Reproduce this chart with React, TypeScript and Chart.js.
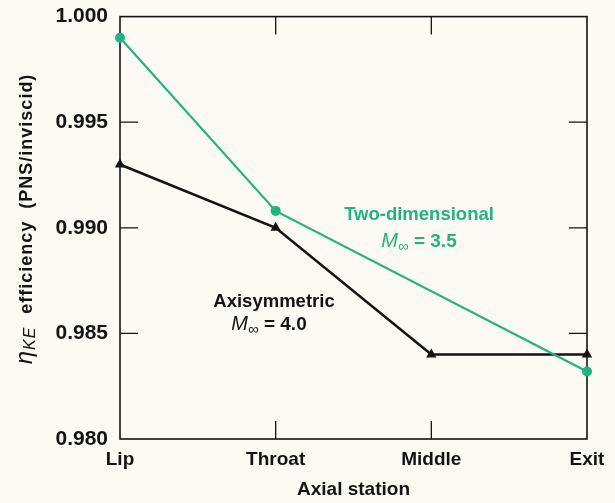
import React, { useEffect, useRef } from "react";
import { Chart, registerables } from "chart.js";

Chart.register(...registerables);

// Axial stations along the inlet
const stations = ["Lip", "Throat", "Middle", "Exit"];
// Kinetic-energy efficiency (PNS / inviscid)
const twoDimensional = [0.999, 0.9908, null, 0.9832]; // M∞ = 3.5
const axisymmetric = [0.993, 0.99, 0.984, 0.984]; // M∞ = 4.0
const yTicks = [0.98, 0.985, 0.99, 0.995, 1.0];

const TEAL = "#1db680";
const INK = "#141414";
const PAPER = "#fcfaf3";
const FONT = "'Liberation Sans', Arial, Helvetica, sans-serif";

// Box around the plot with inward tick marks on all four sides
const framePlugin = {
  id: "frame",
  beforeDatasetsDraw(chart: any) {
    const { ctx, chartArea: a, scales } = chart;
    const len = 18;
    ctx.save();
    ctx.strokeStyle = INK;
    ctx.lineWidth = 1.6;
    ctx.strokeRect(a.left, a.top, a.right - a.left, a.bottom - a.top);
    ctx.lineWidth = 1.3;
    ctx.beginPath();
    yTicks.forEach((v) => {
      const py = scales.y.getPixelForValue(v);
      if (py > a.top + 1 && py < a.bottom - 1) {
        ctx.moveTo(a.left, py);
        ctx.lineTo(a.left + len, py);
        ctx.moveTo(a.right, py);
        ctx.lineTo(a.right - len, py);
      }
    });
    stations.forEach((_, i) => {
      const px = scales.x.getPixelForValue(i);
      if (px > a.left + 1 && px < a.right - 1) {
        ctx.moveTo(px, a.bottom);
        ctx.lineTo(px, a.bottom - len);
        ctx.moveTo(px, a.top);
        ctx.lineTo(px, a.top + len);
      }
    });
    ctx.stroke();
    ctx.restore();
  },
};

// "M∞ = value" with an italic M and subscript infinity
function drawMach(ctx: CanvasRenderingContext2D, cx: number, cy: number, value: string, color: string) {
  const mFont = `italic 400 20px ${FONT}`;
  const subFont = `400 15px ${FONT}`;
  const valFont = `700 19px ${FONT}`;
  const tail = " = " + value;
  ctx.font = mFont;
  const wM = ctx.measureText("M").width;
  ctx.font = subFont;
  const wS = ctx.measureText("\u221E").width;
  ctx.font = valFont;
  const wT = ctx.measureText(tail).width;
  let x = cx - (wM + wS + wT) / 2;
  const base = cy + 7;
  ctx.fillStyle = color;
  ctx.textAlign = "left";
  ctx.textBaseline = "alphabetic";
  ctx.font = mFont;
  ctx.fillText("M", x, base);
  x += wM;
  ctx.font = subFont;
  ctx.fillText("\u221E", x, base + 4);
  x += wS;
  ctx.font = valFont;
  ctx.fillText(tail, x, base);
}

const labelsPlugin = {
  id: "curveLabels",
  afterDatasetsDraw(chart: any) {
    const { ctx } = chart;
    ctx.save();
    ctx.textAlign = "center";
    ctx.textBaseline = "middle";
    ctx.font = `700 18.5px ${FONT}`;
    ctx.fillStyle = TEAL;
    ctx.fillText("Two-dimensional", 419, 215);
    drawMach(ctx, 419, 240, "3.5", TEAL);
    ctx.textAlign = "center";
    ctx.textBaseline = "middle";
    ctx.font = `700 18.5px ${FONT}`;
    ctx.fillStyle = INK;
    ctx.fillText("Axisymmetric", 274, 302);
    drawMach(ctx, 269, 323, "4.0", INK);
    ctx.restore();
  },
};

// Vertical axis title: italic η with subscript KE, then bold text
const yTitlePlugin = {
  id: "yTitle",
  afterDraw(chart: any) {
    const { ctx } = chart;
    const etaFont = `italic 400 24px ${FONT}`;
    const subFont = `italic 400 16px ${FONT}`;
    const restFont = `700 18px ${FONT}`;
    const rest = "  efficiency  (PNS/inviscid)";
    ctx.save();
    ctx.letterSpacing = "1px";
    ctx.font = etaFont;
    const wEta = ctx.measureText("\u03B7").width;
    ctx.font = subFont;
    const wSub = ctx.measureText("KE").width + 1;
    ctx.font = restFont;
    const wRest = ctx.measureText(rest).width;
    ctx.translate(32, 219);
    ctx.rotate(-Math.PI / 2);
    ctx.fillStyle = INK;
    ctx.textAlign = "left";
    ctx.textBaseline = "alphabetic";
    let x = -(wEta + wSub + wRest) / 2;
    ctx.font = etaFont;
    ctx.fillText("\u03B7", x, 0);
    x += wEta;
    ctx.font = subFont;
    ctx.fillText("KE", x, 3);
    x += wSub;
    ctx.font = restFont;
    ctx.fillText(rest, x, 0);
    ctx.restore();
  },
};

export default function App() {
  const canvasRef = useRef<HTMLCanvasElement | null>(null);

  useEffect(() => {
    document.body.style.margin = "0";
    document.body.style.background = PAPER;
    const canvas = canvasRef.current;
    if (!canvas) return;
    const chart = new Chart(canvas, {
      type: "line",
      data: {
        labels: stations,
        datasets: [
          {
            label: "Two-dimensional, M∞ = 3.5",
            data: twoDimensional,
            borderColor: TEAL,
            backgroundColor: TEAL,
            borderWidth: 2.2,
            pointStyle: "circle",
            pointRadius: 5,
            pointBorderWidth: 0,
            spanGaps: true,
            tension: 0,
            clip: false,
          },
          {
            label: "Axisymmetric, M∞ = 4.0",
            data: axisymmetric,
            borderColor: INK,
            backgroundColor: INK,
            borderWidth: 2.6,
            pointStyle: "triangle",
            pointRadius: 6,
            pointBorderWidth: 0,
            tension: 0,
            clip: false,
          },
        ],
      },
      options: {
        responsive: false,
        animation: false,
        devicePixelRatio: 1,
        layout: { autoPadding: false, padding: { left: 0, right: 28, top: 16, bottom: 0 } },
        plugins: {
          legend: { display: false },
          tooltip: { enabled: false },
        },
        scales: {
          x: {
            type: "category",
            offset: false,
            grid: { display: false },
            border: { display: false },
            ticks: {
              color: INK,
              padding: 1,
              maxRotation: 0,
              autoSkip: false,
              font: { family: FONT, size: 19, weight: "bold" },
            },
            title: {
              display: true,
              text: "Axial station",
              color: INK,
              padding: { top: 0, bottom: 2 },
              font: { family: FONT, size: 19, weight: "bold" },
            },
            afterFit: (s: any) => {
              s.height = 64;
            },
          },
          y: {
            type: "linear",
            min: 0.98,
            max: 1.0,
            grid: { display: false },
            border: { display: false },
            afterBuildTicks: (s: any) => {
              s.ticks = yTicks.map((v) => ({ value: v }));
            },
            ticks: {
              color: INK,
              padding: 4,
              font: { family: FONT, size: 21, weight: "bold" },
              callback: (v: any) => Number(v).toFixed(3),
            },
            afterFit: (s: any) => {
              s.width = 120;
            },
          },
        },
      },
      plugins: [framePlugin, labelsPlugin, yTitlePlugin],
    });
    return () => chart.destroy();
  }, []);

  return (
    <div style={{ width: 615, height: 503, background: PAPER }}>
      <canvas ref={canvasRef} width={615} height={503} />
    </div>
  );
}
